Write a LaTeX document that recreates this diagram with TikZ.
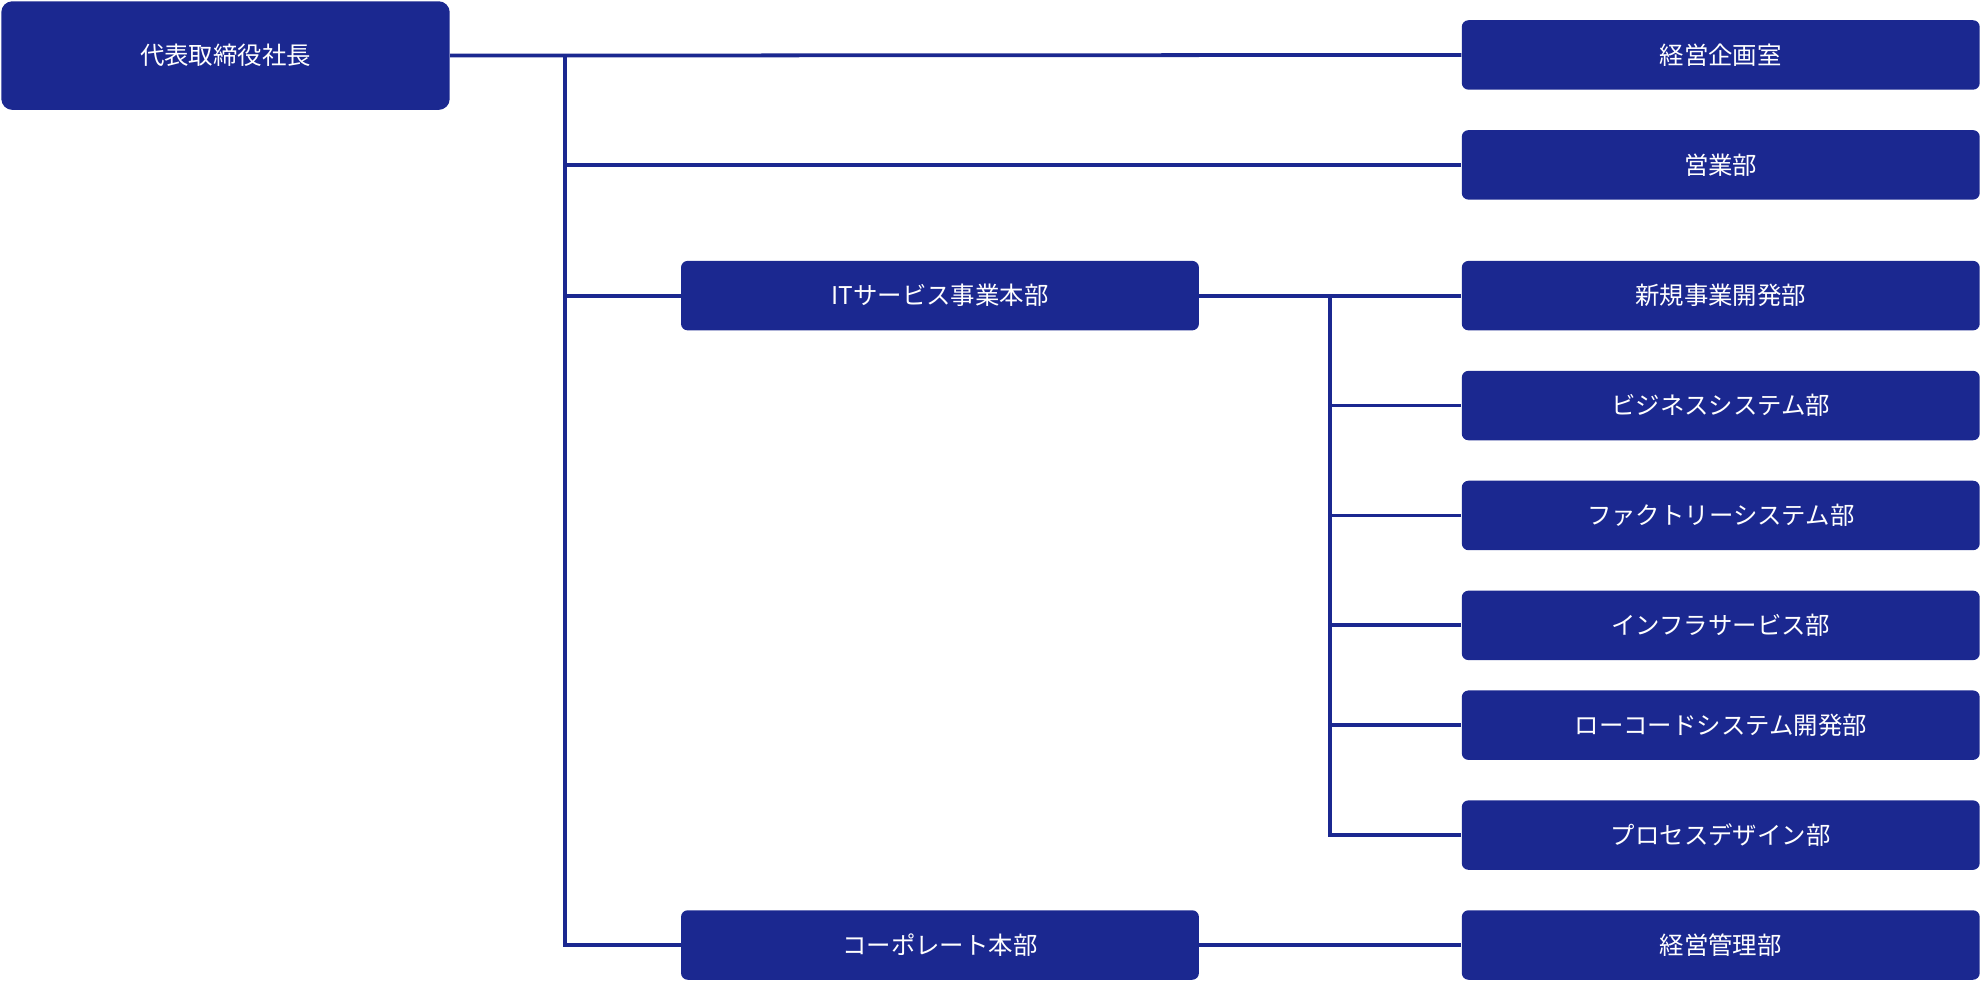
\documentclass[tikz,border=0pt]{standalone}
\usepackage{fontspec}
\setmainfont{Noto Sans CJK JP}
\usetikzlibrary{positioning}
\definecolor{navy}{HTML}{1B2890}
\tikzset{
  unit/.style={fill=navy, text=white, rounded corners=3pt, minimum width=8.2cm, minimum height=1.1cm, inner sep=0pt, font=\fontsize{11}{13}\selectfont},
  top/.style={unit, minimum width=7.1cm, minimum height=1.72cm, rounded corners=5pt},
  link/.style={draw=navy, line width=1.7pt}
}
\begin{document}
\begin{tikzpicture}[x=0.02cm, y=-0.02cm]
\useasboundingbox (0,0) rectangle (1568,776);

\node[top] (ceo) at (178.5,44) {代表取締役社長};
% right column
\node[unit] (kikaku) at (1362,43.5) {経営企画室};
\node[unit] (eigyo) at (1362,130.5) {営業部};
\node[unit] (shinki) at (1362,234) {新規事業開発部};
\node[unit] (biz) at (1362,321) {ビジネスシステム部};
\node[unit] (fact) at (1362,408) {ファクトリーシステム部};
\node[unit] (infra) at (1362,495) {インフラサービス部};
\node[unit] (lowcode) at (1362,574) {ローコードシステム開発部};
\node[unit] (process) at (1362,661) {プロセスデザイン部};
\node[unit] (kanri) at (1362,748) {経営管理部};
% middle column
\node[unit] (it) at (744,234) {ITサービス事業本部};
\node[unit] (corp) at (744,748) {コーポレート本部};

\coordinate (trunk) at (447,44);
\coordinate (trunkend) at (447,748);
\coordinate (branch) at (1053,234);
\coordinate (branchend) at (1053,661);

\draw[link] (ceo.east) -- (kikaku.west);
\draw[link] (trunk) -- (trunkend) -- (corp.west);
\draw[link] (trunk |- eigyo.west) -- (eigyo.west);
\draw[link] (trunk |- it.west) -- (it.west);
\draw[link] (it.east) -- (shinki.west);
\draw[link] (corp.east) -- (kanri.west);
\draw[link] (branch) -- (branchend) -- (process.west);
\foreach \n in {biz,fact,infra,lowcode}
  \draw[link] (branch |- \n.west) -- (\n.west);
\end{tikzpicture}
\end{document}
